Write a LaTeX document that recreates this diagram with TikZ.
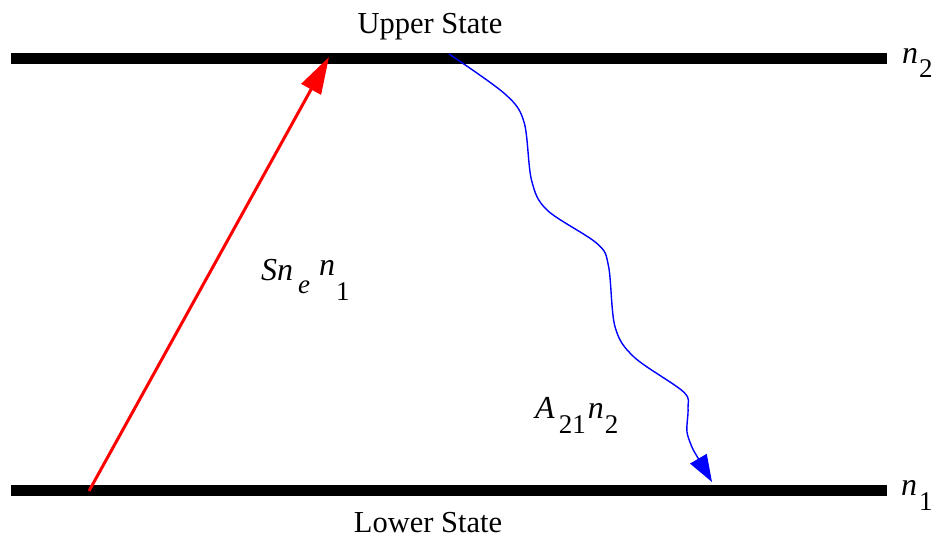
\documentclass[tikz,border=0pt]{standalone}
\usepackage{fontspec}
\setmainfont{Liberation Serif}
\usetikzlibrary{arrows.meta}
\newcommand{\mainsz}{\fontsize{32}{32}\selectfont}
\newcommand{\subsz}{\fontsize{27}{27}\selectfont}
\begin{document}
\begin{tikzpicture}[x=1pt,y=-1pt,
  level/.style={line width=10.5pt,black},
  statelabel/.style={inner sep=0pt,anchor=base,font=\fontsize{30.5}{30.5}\selectfont},
  mathlabel/.style={inner sep=0pt,anchor=base west,font=\mainsz},
  excite/.style={red,line width=3pt,-{Triangle[length=37pt,width=22pt]}},
  decay/.style={blue,line width=1.4pt,-{Triangle[length=27pt,width=19pt]}}]
\useasboundingbox (0,0) rectangle (944,538);
% levels
\coordinate (u1) at (11,58.3);
\coordinate (u2) at (887,58.3);
\coordinate (l1) at (11,490.5);
\coordinate (l2) at (887,490.5);
\draw[level] (u1) -- (u2);
\draw[level] (l1) -- (l2);
% state labels
\node[statelabel] (upper) at (430,33) {Upper State};
\node[statelabel] (lower) at (428,532) {Lower State};
% level population labels
\node[mathlabel] (n2) at (902,63) {\textit{n}\hspace{1pt}\raisebox{-14pt}{\subsz 2}};
\node[mathlabel] (n1) at (901,495) {\textit{n}\hspace{2pt}\raisebox{-15pt}{\subsz 1}};
% red excitation
\coordinate (rs) at (89,491);
\coordinate (re) at (329,57);
\draw[excite] (rs) -- (re);
\node[mathlabel] (snn) at (261,280) {\textit{Sn}\hspace{5pt}\raisebox{-13pt}{\subsz\textit{e}}\hspace{9pt}\raisebox{5pt}{\textit{n}}\hspace{1pt}\raisebox{-20pt}{\subsz 1}};
% blue decay
\coordinate (bs) at (449,54);
\coordinate (bw) at (693.3,450);
\coordinate (be) at (712,482);
\draw[decay] plot[smooth,tension=0.55] coordinates {(bs) (505,94) (524,122) (531.5,180) (547,210) (597,243.5) (608.5,266) (615,326.7) (634,357) (683.3,391.7) (688,408) (687,432) (bw)} -- (be);
\node[mathlabel] (a21) at (535,418) {\textit{A}\hspace{4pt}\raisebox{-15pt}{\subsz 21}\hspace{2pt}\textit{n}\hspace{1pt}\raisebox{-15pt}{\subsz 2}};
\end{tikzpicture}
\end{document}
